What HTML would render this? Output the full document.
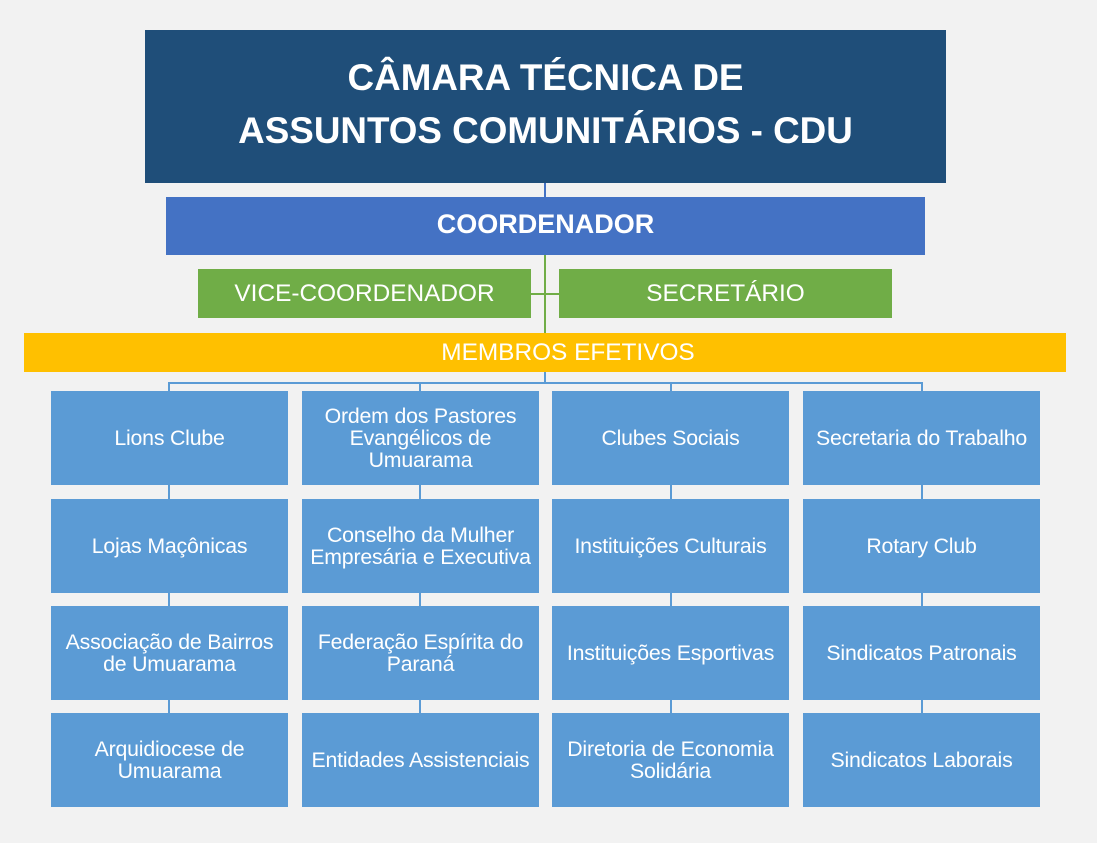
<!DOCTYPE html>
<html><head><meta charset="utf-8"><style>
body{margin:0;width:1097px;height:843px;background:#f2f2f2;position:relative;overflow:hidden;font-family:"Liberation Sans",Arial,sans-serif}
.b{position:absolute;display:flex;align-items:center;justify-content:center;text-align:center;color:#fff;box-sizing:border-box}
.m{background:#5b9bd5;width:237px;height:94px;font-size:21.3px;line-height:22px;padding:0 2px 1px;letter-spacing:-0.2px}
.l{position:absolute}
</style></head><body>
<div class="b" style="left:145px;top:30px;width:801px;height:153px;background:#1f4e79;font-size:36.8px;font-weight:bold;line-height:53px;padding-bottom:6px">CÂMARA TÉCNICA DE<br>ASSUNTOS COMUNITÁRIOS - CDU</div>
<div class="l" style="left:544px;top:183px;width:2px;height:14px;background:#4472c4"></div>
<div class="b" style="left:166px;top:197px;width:759px;height:58px;background:#4472c4;font-size:27px;font-weight:bold;padding-bottom:4px">COORDENADOR</div>
<div class="l" style="left:544px;top:255px;width:2px;height:78px;background:#70ad47"></div>
<div class="l" style="left:531px;top:293px;width:28px;height:2px;background:#70ad47"></div>
<div class="b" style="left:198px;top:269px;width:333px;height:49px;background:#70ad47;font-size:24.4px">VICE-COORDENADOR</div>
<div class="b" style="left:559px;top:269px;width:333px;height:49px;background:#70ad47;font-size:24.4px">SECRETÁRIO</div>
<div class="b" style="left:24px;top:333px;width:1042px;height:39px;background:#ffc000;font-size:24.4px;padding-left:46px">MEMBROS EFETIVOS</div>
<div class="l" style="left:544px;top:372px;width:2px;height:11px;background:#5b9bd5"></div>
<div class="l" style="left:168px;top:382px;width:755px;height:2px;background:#5b9bd5"></div>
<div class="l" style="left:168px;top:382px;width:2px;height:400px;background:#5b9bd5"></div>
<div class="l" style="left:419px;top:382px;width:2px;height:400px;background:#5b9bd5"></div>
<div class="l" style="left:670px;top:382px;width:2px;height:400px;background:#5b9bd5"></div>
<div class="l" style="left:921px;top:382px;width:2px;height:400px;background:#5b9bd5"></div>

<div class="b m" style="left:51px;top:391px">Lions Clube</div>
<div class="b m" style="left:51px;top:499px">Lojas Maçônicas</div>
<div class="b m" style="left:51px;top:606px">Associação de Bairros<br>de Umuarama</div>
<div class="b m" style="left:51px;top:713px">Arquidiocese de<br>Umuarama</div>

<div class="b m" style="left:302px;top:391px">Ordem dos Pastores<br>Evangélicos de<br>Umuarama</div>
<div class="b m" style="left:302px;top:499px">Conselho da Mulher<br>Empresária e Executiva</div>
<div class="b m" style="left:302px;top:606px">Federação Espírita do<br>Paraná</div>
<div class="b m" style="left:302px;top:713px">Entidades Assistenciais</div>

<div class="b m" style="left:552px;top:391px">Clubes Sociais</div>
<div class="b m" style="left:552px;top:499px">Instituições Culturais</div>
<div class="b m" style="left:552px;top:606px">Instituições Esportivas</div>
<div class="b m" style="left:552px;top:713px">Diretoria de Economia<br>Solidária</div>

<div class="b m" style="left:803px;top:391px">Secretaria do Trabalho</div>
<div class="b m" style="left:803px;top:499px">Rotary Club</div>
<div class="b m" style="left:803px;top:606px">Sindicatos Patronais</div>
<div class="b m" style="left:803px;top:713px">Sindicatos Laborais</div>
</body></html>
